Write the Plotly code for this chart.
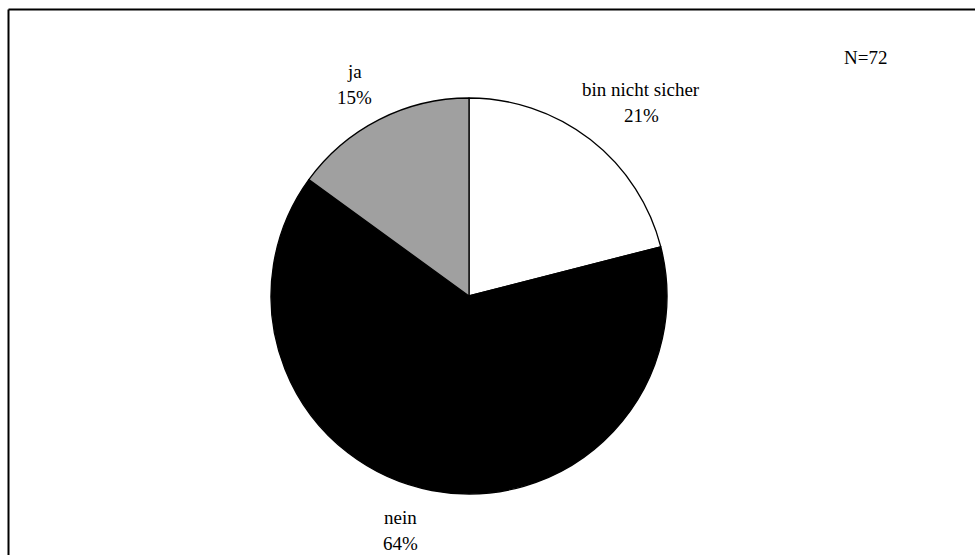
import plotly.graph_objects as go

labels = ["bin nicht sicher", "nein", "ja"]
values = [21, 64, 15]
colors = ["#ffffff", "#000000", "#a0a0a0"]
n_text = "N=72"

W, H = 975, 555
cx, cy, r = 469, 296, 198

fig = go.Figure(go.Pie(
    labels=labels, values=values, sort=False, direction="clockwise", rotation=0,
    marker=dict(colors=colors, line=dict(color="#000000", width=1.3)),
    textinfo="none", hoverinfo="label+percent", showlegend=False,
    domain=dict(x=[(cx - r) / W, (cx + r) / W], y=[(H - cy - r) / H, (H - cy + r) / H]),
))

font = dict(family="Liberation Serif", size=19, color="#000000")
label_pos = {"bin nicht sicher": (641, 89), "nein": (400, 517), "ja": (354, 71)}
total = sum(values)
for lab, val in zip(labels, values):
    px, py = label_pos[lab]
    fig.add_annotation(x=px / W, y=1 - py / H, xref="paper", yref="paper", text=lab,
                       showarrow=False, font=font, xanchor="center", yanchor="middle")
    fig.add_annotation(x=px / W, y=1 - (py + 26) / H, xref="paper", yref="paper",
                       text=f"{round(100 * val / total)}%", showarrow=False, font=font,
                       xanchor="center", yanchor="middle")

fig.add_annotation(x=865 / W, y=1 - 57 / H, xref="paper", yref="paper", text=n_text,
                   showarrow=False, font=font, xanchor="center", yanchor="middle")

# frame (top and left edges visible)
fig.add_shape(type="line", xref="paper", yref="paper", x0=8.5 / W, x1=1.02, y0=1 - 9.5 / H, y1=1 - 9.5 / H,
              line=dict(color="#000000", width=2))
fig.add_shape(type="line", xref="paper", yref="paper", x0=8.5 / W, x1=8.5 / W, y0=1 - 9.5 / H, y1=-0.02,
              line=dict(color="#000000", width=2))

fig.update_layout(width=W, height=H, margin=dict(l=0, r=0, t=0, b=0),
                  paper_bgcolor="#ffffff", plot_bgcolor="#ffffff")
fig.write_html("out.html")
